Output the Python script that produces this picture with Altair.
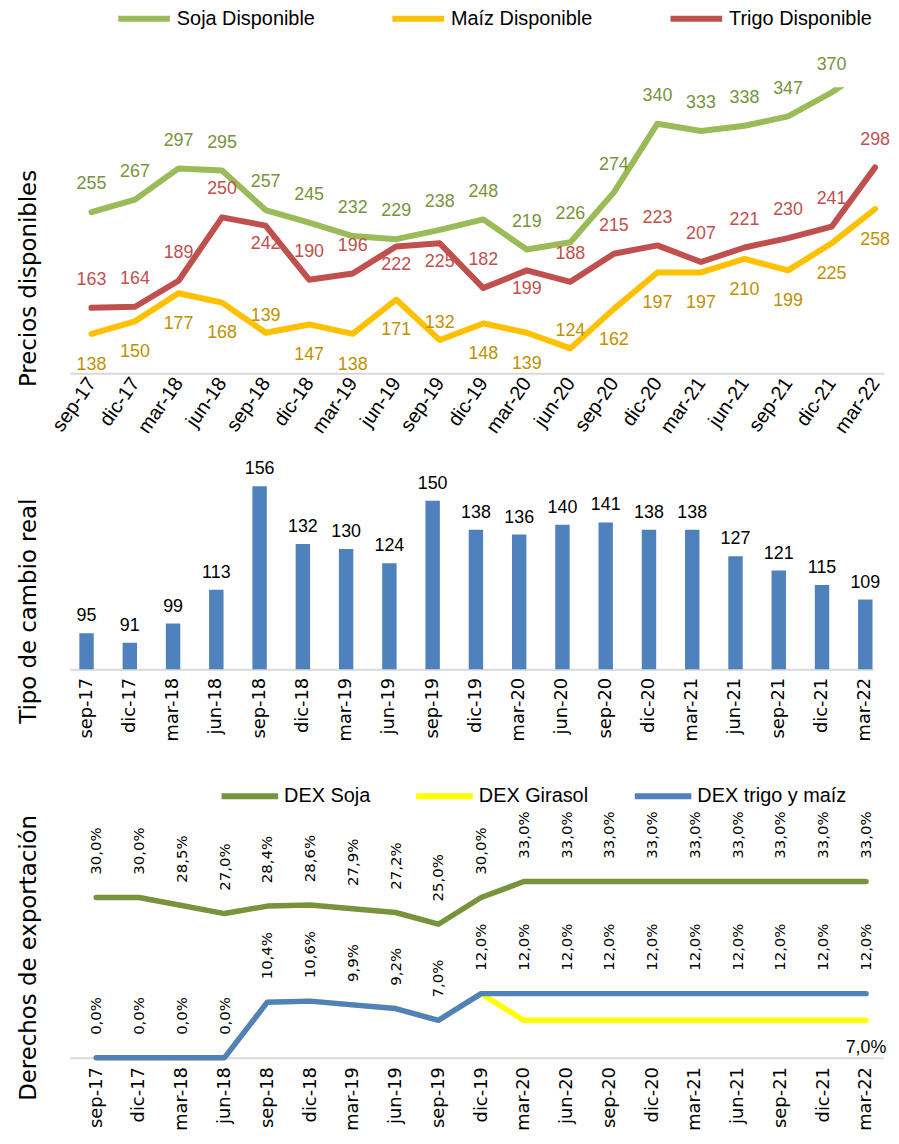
import altair as alt
import pandas as pd

# ---------------- data ----------------
fechas = ["sep-17", "dic-17", "mar-18", "jun-18", "sep-18", "dic-18", "mar-19", "jun-19",
          "sep-19", "dic-19", "mar-20", "jun-20", "sep-20", "dic-20", "mar-21", "jun-21",
          "sep-21", "dic-21", "mar-22"]

soja = [255, 267, 297, 295, 257, 245, 232, 229, 238, 248, 219, 226, 274, 340, 333, 338, 347, 370, 398]
maiz = [138, 150, 177, 168, 139, 147, 138, 171, 132, 148, 139, 124, 162, 197, 197, 210, 199, 225, 258]
trigo = [163, 164, 189, 250, 242, 190, 196, 222, 225, 182, 199, 188, 215, 223, 207, 221, 230, 241, 298]

tipo_cambio_real = [95, 91, 99, 113, 156, 132, 130, 124, 150, 138, 136, 140, 141, 138, 138, 127, 121, 115, 109]

dex_soja = [30.0, 30.0, 28.5, 27.0, 28.4, 28.6, 27.9, 27.2, 25.0, 30.0,
            33.0, 33.0, 33.0, 33.0, 33.0, 33.0, 33.0, 33.0, 33.0]
dex_girasol = [0.0, 0.0, 0.0, 0.0, 10.4, 10.6, 9.9, 9.2, 7.0, 12.0,
               7.0, 7.0, 7.0, 7.0, 7.0, 7.0, 7.0, 7.0, 7.0]
dex_trigo_maiz = [0.0, 0.0, 0.0, 0.0, 10.4, 10.6, 9.9, 9.2, 7.0, 12.0,
                  12.0, 12.0, 12.0, 12.0, 12.0, 12.0, 12.0, 12.0, 12.0]

series_top = ["Soja Disponible", "Maíz Disponible", "Trigo Disponible"]
series_dex = ["DEX Soja", "DEX Girasol", "DEX trigo y maíz"]

# ---------------- styles ----------------
NARROW = "Liberation Sans Narrow, Arial Narrow, Liberation Sans, sans-serif"
WIDE = "DejaVu Sans, Verdana, sans-serif"
top_line_colors = ["#9BBB59", "#FFC000", "#C0504D"]
top_label_colors = ["#77933C", "#BF9000", "#C0504D"]
dex_colors = ["#77933C", "#FFFF00", "#4F81BD"]
bar_color = "#4F81BD"
base_gray = "#D9D9D9"

# label placement: "a" = above the point, "b" = below the point
soja_pos = ["a"] * 19
trigo_pos = ["a", "a", "a", "a", "b", "a", "a", "b", "b", "a",
             "b", "a", "a", "a", "a", "a", "a", "a", "a"]
maiz_pos = ["b", "b", "b", "b", "a", "b", "b", "b", "a", "b",
            "b", "a", "b", "b", "b", "b", "b", "b", "b"]
# pixel offset per (series, position)
label_offsets = {
    ("Soja Disponible", "a"): -28,
    ("Trigo Disponible", "a"): -28,
    ("Trigo Disponible", "b"): 19,
    ("Maíz Disponible", "a"): -17,
    ("Maíz Disponible", "b"): 31,
}

# ---------------- tables ----------------
rows = []
for name, vals, poss, lc in zip(series_top, [soja, maiz, trigo], [soja_pos, maiz_pos, trigo_pos],
                                top_label_colors):
    for f, v, p in zip(fechas, vals, poss):
        rows.append({"fecha": f, "serie": name, "valor": v, "pos": p, "lcolor": lc})
df_top = pd.DataFrame(rows)

df_mid = pd.DataFrame({"fecha": fechas, "tcr": tipo_cambio_real})

rows = []
for name, vals in zip(series_dex, [dex_soja, dex_girasol, dex_trigo_maiz]):
    for f, v in zip(fechas, vals):
        rows.append({"fecha": f, "serie": name, "valor": v})
df_dex = pd.DataFrame(rows)


def y_axis(title, title_y):
    return alt.Axis(title=title, labels=False, ticks=False, domain=False, grid=False,
                    titleFont=WIDE, titleFontSize=23, titleFontWeight="normal", titleColor="#000000",
                    titleX=-41, titleY=title_y, titleAngle=-90, titleAlign="center",
                    titleBaseline="middle")


# ---------------- top panel ----------------
x_top = alt.X("fecha:N", sort=fechas, title=None,
              scale=alt.Scale(type="point", padding=0.354, align=0.71),
              axis=alt.Axis(labelAngle=-55, labelFont=NARROW, labelFontSize=20, labelColor="#000000",
                            ticks=False, domainColor=base_gray, domainWidth=2, labelPadding=6,
                            grid=False, labelOverlap=False))
y_top = alt.Y("valor:Q", scale=alt.Scale(domain=[100, 375], nice=False, zero=False),
              axis=y_axis("Precios disponibles", 192))

top_lines = alt.Chart(df_top).mark_line(strokeWidth=6, clip=True, strokeCap="round",
                                        strokeJoin="round").encode(
    x=x_top, y=y_top,
    color=alt.Color("serie:N", sort=series_top,
                    scale=alt.Scale(domain=series_top, range=top_line_colors),
                    legend=alt.Legend(title=None, orient="none", direction="horizontal",
                                      legendX=46, legendY=-98, symbolType="stroke",
                                      symbolSize=2704, symbolStrokeWidth=6,
                                      labelFont=NARROW, labelFontSize=20, labelColor="#000000",
                                      labelOffset=4, columnPadding=66)),
)
top_layers = [top_lines]
for (serie, pos), off in label_offsets.items():
    top_layers.append(
        alt.Chart(df_top).transform_filter(
            f"datum.serie == '{serie}' && datum.pos == '{pos}' && datum.valor <= 375"
        ).mark_text(font=NARROW, fontSize=18, dy=off).encode(
            x=x_top, y=y_top,
            text=alt.Text("valor:Q", format="d"),
            color=alt.Color("lcolor:N", scale=None),
        )
    )
top = alt.layer(*top_layers).properties(width=820, height=288)

# ---------------- middle panel ----------------
x_mid = alt.X("fecha:N", sort=fechas, title=None,
              scale=alt.Scale(paddingInner=0.667, paddingOuter=0.12, align=0.94),
              axis=alt.Axis(labelAngle=-90, labelFont=WIDE, labelFontSize=18, labelColor="#000000",
                            ticks=False, domainColor=base_gray, domainWidth=2, labelPadding=8,
                            grid=False, labelOverlap=False))
y_mid = alt.Y("tcr:Q", scale=alt.Scale(domain=[80, 160], nice=False, zero=False),
              axis=y_axis("Tipo de cambio real", 135))

bars = alt.Chart(df_mid).mark_bar(color=bar_color, clip=True).encode(x=x_mid, y=y_mid)
bar_labels = alt.Chart(df_mid).mark_text(font=NARROW, fontSize=18, baseline="bottom", dy=-8,
                                         color="#000000").encode(
    x=x_mid, y=y_mid, text=alt.Text("tcr:Q", format="d"))
mid = alt.layer(bars, bar_labels).properties(width=809, height=194)

# ---------------- bottom panel ----------------
x_dex = alt.X("fecha:N", sort=fechas, title=None,
              scale=alt.Scale(type="point", padding=0.511, align=0.61),
              axis=alt.Axis(labelAngle=-90, labelFont=WIDE, labelFontSize=18, labelColor="#000000",
                            ticks=False, domainColor=base_gray, domainWidth=2, labelPadding=9,
                            grid=False, labelOverlap=False))
dex_scale = alt.Scale(domain=[0, 53.4], nice=False, zero=True)
dex_axis = y_axis("Derechos de exportación", 186)

dex_lines = alt.Chart(df_dex).mark_line(strokeWidth=5.5, strokeCap="round", strokeJoin="round").encode(
    x=x_dex, y=alt.Y("valor:Q", scale=dex_scale, axis=dex_axis),
    color=alt.Color("serie:N", sort=series_dex,
                    scale=alt.Scale(domain=series_dex, range=dex_colors),
                    legend=alt.Legend(title=None, orient="none", direction="horizontal",
                                      legendX=150, legendY=-8, symbolType="stroke",
                                      symbolSize=3249, symbolStrokeWidth=6,
                                      labelFont=NARROW, labelFontSize=20, labelColor="#000000",
                                      labelOffset=3, columnPadding=34)),
)
dex_labels = alt.Chart(df_dex).transform_filter("datum.serie != 'DEX Girasol'").transform_calculate(
    etiqueta="replace(format(datum.valor, '.1f'), '.', ',') + '%'"
).mark_text(font=WIDE, fontSize=15, angle=270, align="left", baseline="middle", dx=23,
            color="#000000").encode(
    x=x_dex, y=alt.Y("valor:Q", scale=dex_scale, axis=dex_axis), text="etiqueta:N")
gir_label = alt.Chart(df_dex).transform_filter(
    "datum.serie == 'DEX Girasol' && datum.fecha == 'mar-22'").transform_calculate(
    etiqueta="replace(format(datum.valor, '.1f'), '.', ',') + '%'", base="0"
).mark_text(font=NARROW, fontSize=18, baseline="bottom", dy=-1, color="#000000").encode(
    x=x_dex, y=alt.Y("base:Q", scale=dex_scale, axis=dex_axis), text="etiqueta:N")
bottom = alt.layer(dex_lines, dex_labels, gir_label).properties(width=819, height=287)

chart = alt.vconcat(top, mid, bottom, spacing=104, bounds="flush").resolve_scale(
    color="independent", x="independent", y="independent"
).properties(
    padding={"left": 9, "top": -22, "right": 0, "bottom": 0}, background="white"
).configure_view(stroke=None)

chart.save("out.html", embed_options={"renderer": "svg", "actions": False})
